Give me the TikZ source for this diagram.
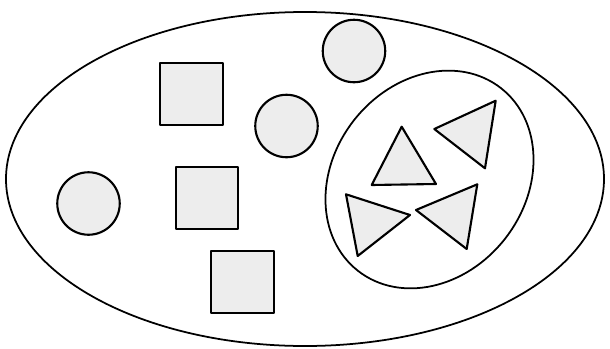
\documentclass[tikz,border=0pt]{standalone}
\usepackage{xcolor}
\usepackage{tikz}

\begin{document}
\begin{tikzpicture}[
        x=0.02cm, y=-0.02cm,
        setline/.style={draw, line width=1pt},
        elem/.style={draw, line width=1.2pt, fill=black!7, line join=round},
        sq/.style={elem, rectangle, minimum size=1.25cm, inner sep=0pt},
        dot/.style={elem, circle, minimum size=1.25cm, inner sep=0pt},
    ]
        \useasboundingbox (0,0) rectangle (610,349);
        % sets
        \draw[setline] (305,179) ellipse [x radius=299, y radius=167];
        \draw[setline, rotate around={52:(429.5,179.5)}] (429.5,179.5) ellipse [x radius=116, y radius=96];
        % squares
        \node[sq] (sqa) at (191.5,94) {};
        \node[sq] (sqb) at (207,198) {};
        \node[sq] (sqc) at (242.5,282) {};
        % circles
        \node[dot] (dota) at (88.5,203.5) {};
        \node[dot] (dotb) at (286.5,126) {};
        \node[dot] (dotc) at (354,51) {};
        % triangles
        \draw[elem] (401.7,126.7) -- (371.7,185) -- (436,184) -- cycle;
        \draw[elem] (434.3,129) -- (495.7,100.7) -- (485,168.3) -- cycle;
        \draw[elem] (346,194.3) -- (410,215) -- (357.7,256) -- cycle;
        \draw[elem] (416,210) -- (477.3,184.3) -- (466.7,249) -- cycle;
    \end{tikzpicture}
\end{document}
